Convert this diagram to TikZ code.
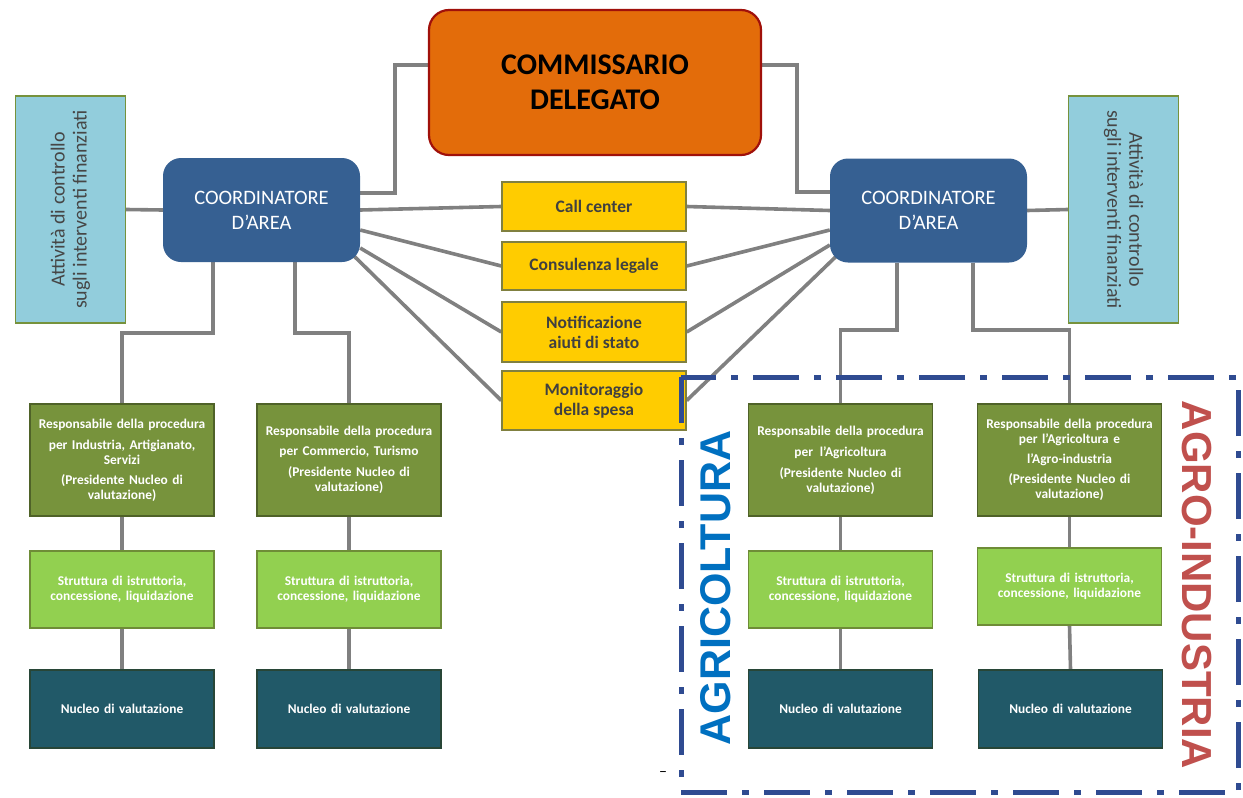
\documentclass[tikz,border=0pt]{standalone}
\usepackage{fontspec}
\setmainfont{Carlito}
\newfontfamily\arialfont{Liberation Sans}
\usetikzlibrary{backgrounds}
\definecolor{conngray}{RGB}{128,128,128}
\definecolor{commfill}{RGB}{227,108,10}
\definecolor{commborder}{RGB}{160,16,10}
\definecolor{coordfill}{RGB}{54,96,146}
\definecolor{attfill}{RGB}{146,205,220}
\definecolor{attborder}{RGB}{118,146,60}
\definecolor{atttext}{RGB}{70,70,70}
\definecolor{yfill}{RGB}{255,204,0}
\definecolor{yborder}{RGB}{128,128,64}
\definecolor{ytext}{RGB}{64,64,64}
\definecolor{dgfill}{RGB}{119,147,60}
\definecolor{dgborder}{RGB}{79,98,40}
\definecolor{lgfill}{RGB}{146,208,80}
\definecolor{lgborder}{RGB}{110,140,55}
\definecolor{tealfill}{RGB}{33,89,104}
\definecolor{tealborder}{RGB}{40,70,55}
\definecolor{framecol}{RGB}{47,75,145}
\definecolor{agrblue}{RGB}{0,112,192}
\definecolor{agrred}{RGB}{192,80,77}
\tikzset{
  conn/.style={draw=conngray, line width=3.6pt},
  commbox/.style={draw=commborder, line width=2.2pt, fill=commfill, rounded corners=20pt,
    minimum width=332pt, minimum height=145pt, align=center, text=black,
    font=\bfseries\fontsize{30}{35}\selectfont},
  coordbox/.style={fill=coordfill, rounded corners=18pt, minimum width=197pt, minimum height=104pt,
    align=center, text=white, font=\fontsize{20.5}{25}\selectfont},
  attbox/.style={draw=attborder, line width=1.2pt, fill=attfill, minimum width=227pt, minimum height=110pt,
    align=center, text=atttext, font=\fontsize{20}{22}\selectfont, inner sep=0pt},
  ybox/.style={draw=yborder, line width=1.4pt, fill=yfill, minimum width=184pt, align=center,
    text=ytext, font=\bfseries\fontsize{17.5}{20}\selectfont, inner sep=0pt},
  smallbox/.style={line width=1.2pt, minimum width=184pt, text width=178pt, inner xsep=3pt, inner ysep=0pt,
    align=center, text=white, font=\bfseries\fontsize{13.4}{15}\selectfont},
  dgbox/.style={smallbox, draw=dgborder, fill=dgfill, minimum height=112pt},
  lgbox/.style={smallbox, draw=lgborder, fill=lgfill, minimum height=77pt},
  tealbox/.style={smallbox, draw=tealborder, fill=tealfill, minimum height=78pt},
  frameline/.style={draw=framecol, line width=5pt, dash pattern=on 46pt off 15pt on 7pt off 15pt},
  bigword/.style={font=\arialfont\bfseries\fontsize{43}{43}\selectfont, inner sep=0pt}
}
\begin{document}
\begin{tikzpicture}[x=1pt,y=-1pt]
\useasboundingbox (0,0) rectangle (1243,798);

% top
\node[commbox] (comm) at (595,82.5) {COMMISSARIO\\DELEGATO};
\node[coordbox] (coordL) at (261.5,210) {COORDINATORE\\D’AREA};
\node[coordbox] (coordR) at (928.5,210.5) {COORDINATORE\\D’AREA};
\node[attbox, rotate=90] (attL) at (70.5,209.5) {Attività di controllo\\sugli interventi finanziati};
\node[attbox, rotate=-90] (attR) at (1123.5,209.5) {Attività di controllo\\sugli interventi finanziati};

% services
\node[ybox, minimum height=49pt] (call) at (594,206.5) {Call center};
\node[ybox, minimum height=48pt] (cons) at (594,266) {Consulenza legale};
\node[ybox, minimum height=60pt] (notif) at (594,332) {Notificazione\\aiuti di stato};
\node[ybox, minimum height=59pt] (mon) at (594,400.5) {Monitoraggio\\della spesa};

% columns
\node[dgbox] (L1) at (122,460) {Responsabile della procedura\\[6pt]per Industria, Artigianato,\\Servizi\\[5pt](Presidente Nucleo di\\valutazione)};
\node[dgbox] (L2) at (349,460) {Responsabile della procedura\\[5pt]per Commercio, Turismo\\[6pt](Presidente Nucleo di\\valutazione)};
\node[dgbox] (R1) at (840.5,460) {Responsabile della procedura\\[6pt]per\enspace l’Agricoltura\\[6pt](Presidente Nucleo di\\valutazione)};
\node[dgbox] (R2) at (1069.5,460) {Responsabile della procedura\\per l’Agricoltura e\\[5pt]l’Agro-industria\\[5pt](Presidente Nucleo di\\valutazione)};

\node[lgbox] (SL1) at (122,589.5) {Struttura di istruttoria,\\concessione, liquidazione};
\node[lgbox] (SL2) at (349,589.5) {Struttura di istruttoria,\\concessione, liquidazione};
\node[lgbox] (SR1) at (840.5,589.5) {Struttura di istruttoria,\\concessione, liquidazione};
\node[lgbox] (SR2) at (1069.5,586.5) {Struttura di istruttoria,\\concessione, liquidazione};

\node[tealbox] (NL1) at (122,709) {Nucleo di valutazione};
\node[tealbox] (NL2) at (349,709) {Nucleo di valutazione};
\node[tealbox] (NR1) at (840.5,709) {Nucleo di valutazione};
\node[tealbox] (NR2) at (1070.5,709) {Nucleo di valutazione};

% big labels and frame
\node[bigword, text=agrblue, rotate=90] (agr) at (716,588) {AGRICOLTURA};
\node[bigword, text=agrred, rotate=-90, font=\arialfont\bfseries\fontsize{42}{42}\selectfont] (agi) at (1197,585) {AGRO-INDUSTRIA};
\node[inner sep=0pt, font=\fontsize{16}{16}\selectfont] (stray) at (663,774) {–};

\begin{pgfonlayer}{background}
\fill[white] (0,0) rectangle (1243,798);
% commissario to coordinators
\draw[conn] (comm.west |- 0,65) -- (395,65) -- (395,193) -- (coordL.east |- 0,193);
\draw[conn] (comm.east |- 0,65) -- (797,65) -- (797,192) -- (coordR.west |- 0,192);
% control activities
\draw[conn] (attL.south) -- (coordL.west);
\draw[conn] (attR.south) -- (coordR.east);
% services
\draw[conn] (coordL.east) -- (call.west);
\draw[conn] (coordL.east |- 0,230) -- (cons.west);
\draw[conn] (coordL.east |- 0,248) -- (notif.west);
\draw[conn] ([xshift=-6pt,yshift=6pt]coordL.south east) -- (mon.west);
\draw[conn] (call.east) -- (coordR.west);
\draw[conn] (cons.east) -- (coordR.west |- 0,230);
\draw[conn] (notif.east) -- (coordR.west |- 0,245);
\draw[conn] (mon.east) -- ([xshift=6pt,yshift=6pt]coordR.south west);
% coordinators to columns
\draw[conn] (coordL.south -| 213,0) -- (213,333) -| (L1.north);
\draw[conn] (coordL.south -| 295,0) -- (295,333) -| (L2.north);
\draw[conn] (coordR.south -| 897,0) -- (897,330) -| (R1.north);
\draw[conn] (coordR.south -| 973,0) -- (973,330) -| (R2.north);
% columns
\foreach \a/\b in {L1/SL1, SL1/NL1, L2/SL2, SL2/NL2, R1/SR1, SR1/NR1, R2/SR2, SR2/NR2}
  \draw[conn] (\a.south) -- (\b.north);
\end{pgfonlayer}

\draw[frameline] (681,377) rectangle (1238,792);
\end{tikzpicture}
\end{document}
